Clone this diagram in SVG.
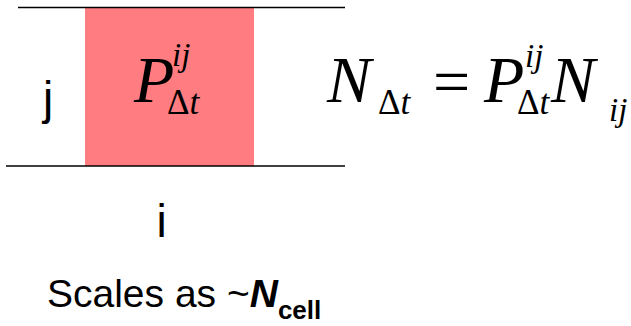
<svg xmlns="http://www.w3.org/2000/svg" width="631" height="326" viewBox="0 0 631 326">
<style>
.lbl{font-family:"Liberation Sans",Arial,sans-serif;fill:#000}
.m{font-family:"Liberation Serif","Times New Roman",serif;font-style:italic;fill:#000}
.u{font-style:normal}
.it{font-style:italic}
.big{font-size:66px}
.sup{font-size:33px}
.sub{font-size:35px}
.ln{stroke:#000;stroke-width:1.5}
</style>
<rect width="631" height="326" fill="#fff"/>
<g id="matrix">
<rect x="85" y="8" width="169" height="158" fill="#FF7C80"/>
<text class="m"><tspan class="big" x="134" y="102">P</tspan><tspan class="sup" x="172" y="66">ij</tspan><tspan class="sub u" x="167" y="114">Δ</tspan><tspan class="sub it">t</tspan></text>
</g>
<g id="connectors">
<line class="ln" x1="18" y1="7.5" x2="345" y2="7.5"/>
<line class="ln" x1="6" y1="166" x2="345" y2="166"/>
</g>
<g id="label-j"><text class="lbl" x="48" y="114" font-size="46" text-anchor="middle">j</text></g>
<g id="label-i"><text class="lbl" x="161.5" y="237" font-size="46" text-anchor="middle">i</text></g>
<g id="equation">
<text class="m"><tspan class="big" x="327" y="102">N</tspan><tspan class="sub u" x="378" y="114">Δ</tspan><tspan class="sub it">t</tspan><tspan class="big u" x="433" y="104">=</tspan><tspan class="big" x="484" y="102">P</tspan><tspan class="sup" x="525" y="67">ij</tspan><tspan class="sub u" x="517" y="114">Δ</tspan><tspan class="sub it">t</tspan><tspan class="big" x="551" y="102">N</tspan><tspan class="sup" x="609" y="121">ij</tspan></text>
</g>
<g id="caption">
<text class="lbl" x="47" y="307" font-size="39">Scales as ~<tspan font-weight="bold" font-style="italic">N</tspan><tspan font-weight="bold" font-size="26" dy="12">cell</tspan></text>
</g>
</svg>
